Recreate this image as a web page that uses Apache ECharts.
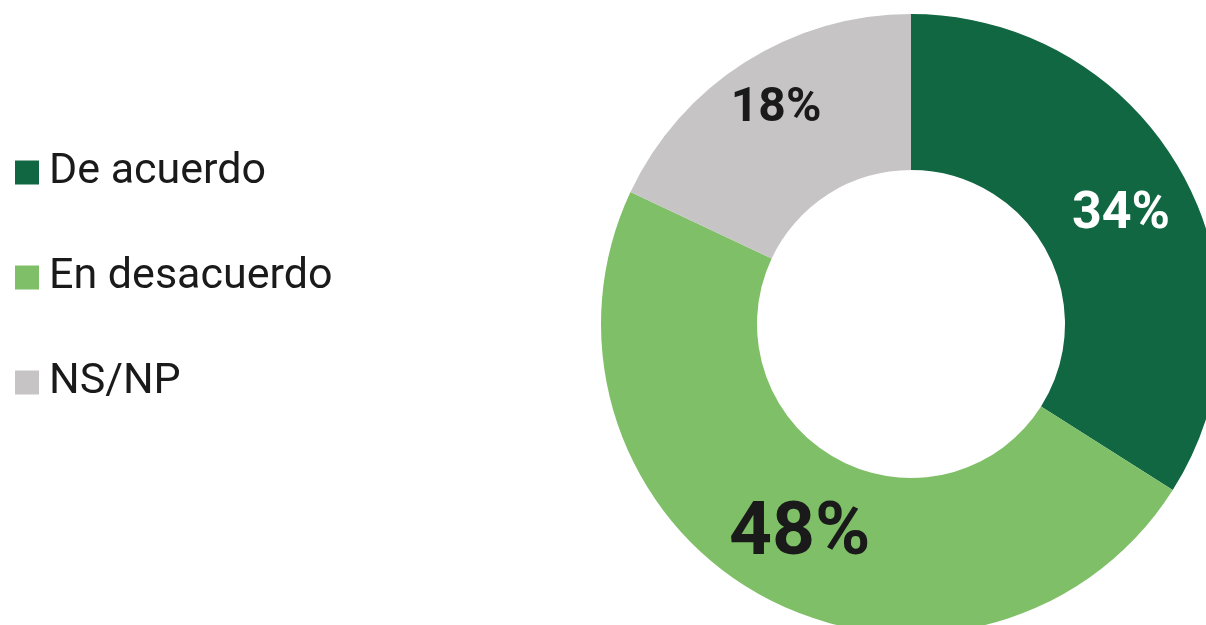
<!DOCTYPE html>
<html>
<head>
<meta charset="utf-8">
<script src="https://cdn.jsdelivr.net/npm/echarts@6/dist/echarts.min.js"></script>
<style>html,body{margin:0;padding:0;background:#fff}#c{width:1206px;height:625px}</style>
</head>
<body>
<div id="c"></div>
<script>
const categories = ['De acuerdo', 'En desacuerdo', 'NS/NP'];
const values = [34, 48, 18];
const colors = ['#106741', '#7FBF67', '#C6C4C5'];
const labelColors = ['#ffffff', '#1a1a1a', '#1a1a1a'];
const labelSizes = [52, 75, 48];
const labelOffsets = [[4, 4], [2, 5], [-9, -17]];

const chart = echarts.init(document.getElementById('c'), null, {renderer: 'canvas'});
chart.setOption({
  animation: false,
  backgroundColor: '#ffffff',
  legend: {
    orient: 'vertical',
    left: 10,
    top: 146,
    itemWidth: 24,
    itemHeight: 24,
    itemGap: 62,
    icon: 'rect',
    selectedMode: false,
    textStyle: {fontFamily: 'Roboto', fontSize: 43, lineHeight: 41, color: '#1a1a1a', padding: [0, 0, 0, 5]},
    data: categories
  },
  series: [{
    type: 'pie',
    center: [911, 324],
    radius: [154, 310],
    startAngle: 90,
    clockwise: true,
    silent: true,
    avoidLabelOverlap: false,
    labelLine: {show: false},
    data: categories.map((c, i) => ({
      name: c,
      value: values[i],
      itemStyle: {color: colors[i]},
      label: {
        show: true,
        position: 'inside',
        formatter: '{c}%',
        fontFamily: 'Roboto',
        fontWeight: 'bold',
        fontSize: labelSizes[i],
        color: labelColors[i],
        offset: labelOffsets[i]
      }
    }))
  }]
});
</script>
</body>
</html>
